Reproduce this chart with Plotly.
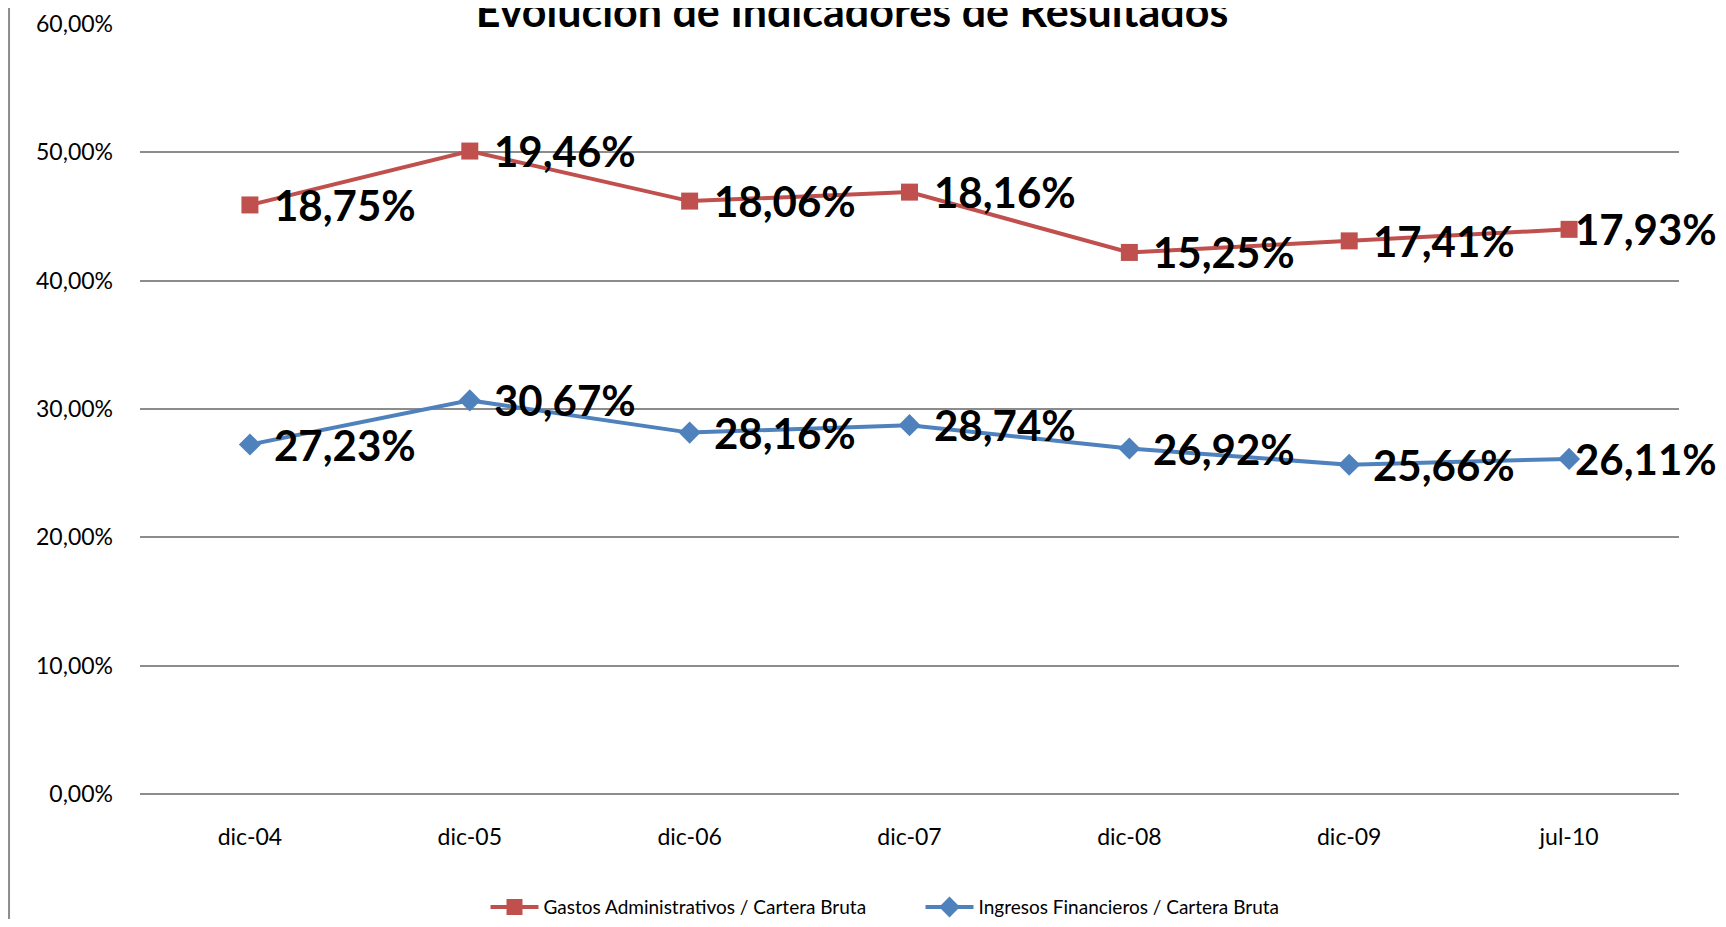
import plotly.graph_objects as go

categorias = ["dic-04", "dic-05", "dic-06", "dic-07", "dic-08", "dic-09", "jul-10"]

# posiciones trazadas (en %) y etiquetas mostradas
gastos_y = [45.9, 50.1, 46.2, 46.9, 42.2, 43.1, 44.0]
gastos_txt = ["18,75%", "19,46%", "18,06%", "18,16%", "15,25%", "17,41%", "17,93%"]

ingresos_y = [27.23, 30.67, 28.16, 28.74, 26.92, 25.66, 26.11]
ingresos_txt = ["27,23%", "30,67%", "28,16%", "28,74%", "26,92%", "25,66%", "26,11%"]

ROJO = "#C0504D"
AZUL = "#4F81BD"
FUENTE = "Lato, 'Open Sans', sans-serif"

fig = go.Figure()
fig.add_trace(go.Scatter(x=categorias, y=gastos_y, mode="lines+markers",
                         name="Gastos Administrativos / Cartera Bruta",
                         line=dict(color=ROJO, width=4),
                         marker=dict(symbol="square", size=17, color=ROJO)))
fig.add_trace(go.Scatter(x=categorias, y=ingresos_y, mode="lines+markers",
                         name="Ingresos Financieros / Cartera Bruta",
                         line=dict(color=AZUL, width=4),
                         marker=dict(symbol="diamond", size=17, color=AZUL)))

# etiquetas de datos a la derecha de cada punto (la última se acerca al punto para caber)
for ys, txts in [(gastos_y, gastos_txt), (ingresos_y, ingresos_txt)]:
    for i, (c, v, t) in enumerate(zip(categorias, ys, txts)):
        fig.add_annotation(x=c, y=v, text=t, showarrow=False,
                           xanchor="left", yanchor="middle",
                           xshift=22 if i < len(categorias) - 1 else 4,
                           font=dict(family=FUENTE, size=42, color="black", weight="bold"))

# la página tiene 8px de margen en el body: la figura se dibuja en (8, 8)
fig.update_layout(
    width=1710, height=911,
    margin=dict(l=132, r=39, t=16, b=125, autoexpand=False),
    paper_bgcolor="white", plot_bgcolor="white",
    separators=",.",
    font=dict(family=FUENTE, color="black"),
    title=dict(text="<b>Evolución de Indicadores de Resultados</b>",
               x=0.4936, xanchor="center", y=0.996, yanchor="middle",
               font=dict(family=FUENTE, size=43, color="black")),
    showlegend=True,
    legend=dict(orientation="h", x=0.2245, xanchor="left",
                yref="container", y=0.013, yanchor="middle",
                font=dict(family=FUENTE, size=19), itemwidth=48,
                entrywidth=372, tracegroupgap=0),
    shapes=[dict(type="line", xref="paper", yref="paper",
                 x0=-0.0851, x1=-0.0851, y0=-0.25, y1=1.03,
                 line=dict(color="#8C8C8C", width=2))],
)
fig.update_xaxes(type="category", range=[-0.5, 6.5], showgrid=False,
                 showline=False, zeroline=False,
                 tickfont=dict(family=FUENTE, size=23), ticklabelstandoff=27)
fig.update_yaxes(range=[0, 60], dtick=10, tickformat=".2f", ticksuffix="%",
                 showgrid=True, gridcolor="#8C8C8C", gridwidth=1.5,
                 zeroline=True, zerolinecolor="#8C8C8C", zerolinewidth=1.5,
                 showline=False,
                 tickfont=dict(family=FUENTE, size=23), ticklabelstandoff=26)

fig.write_html("out.html")
